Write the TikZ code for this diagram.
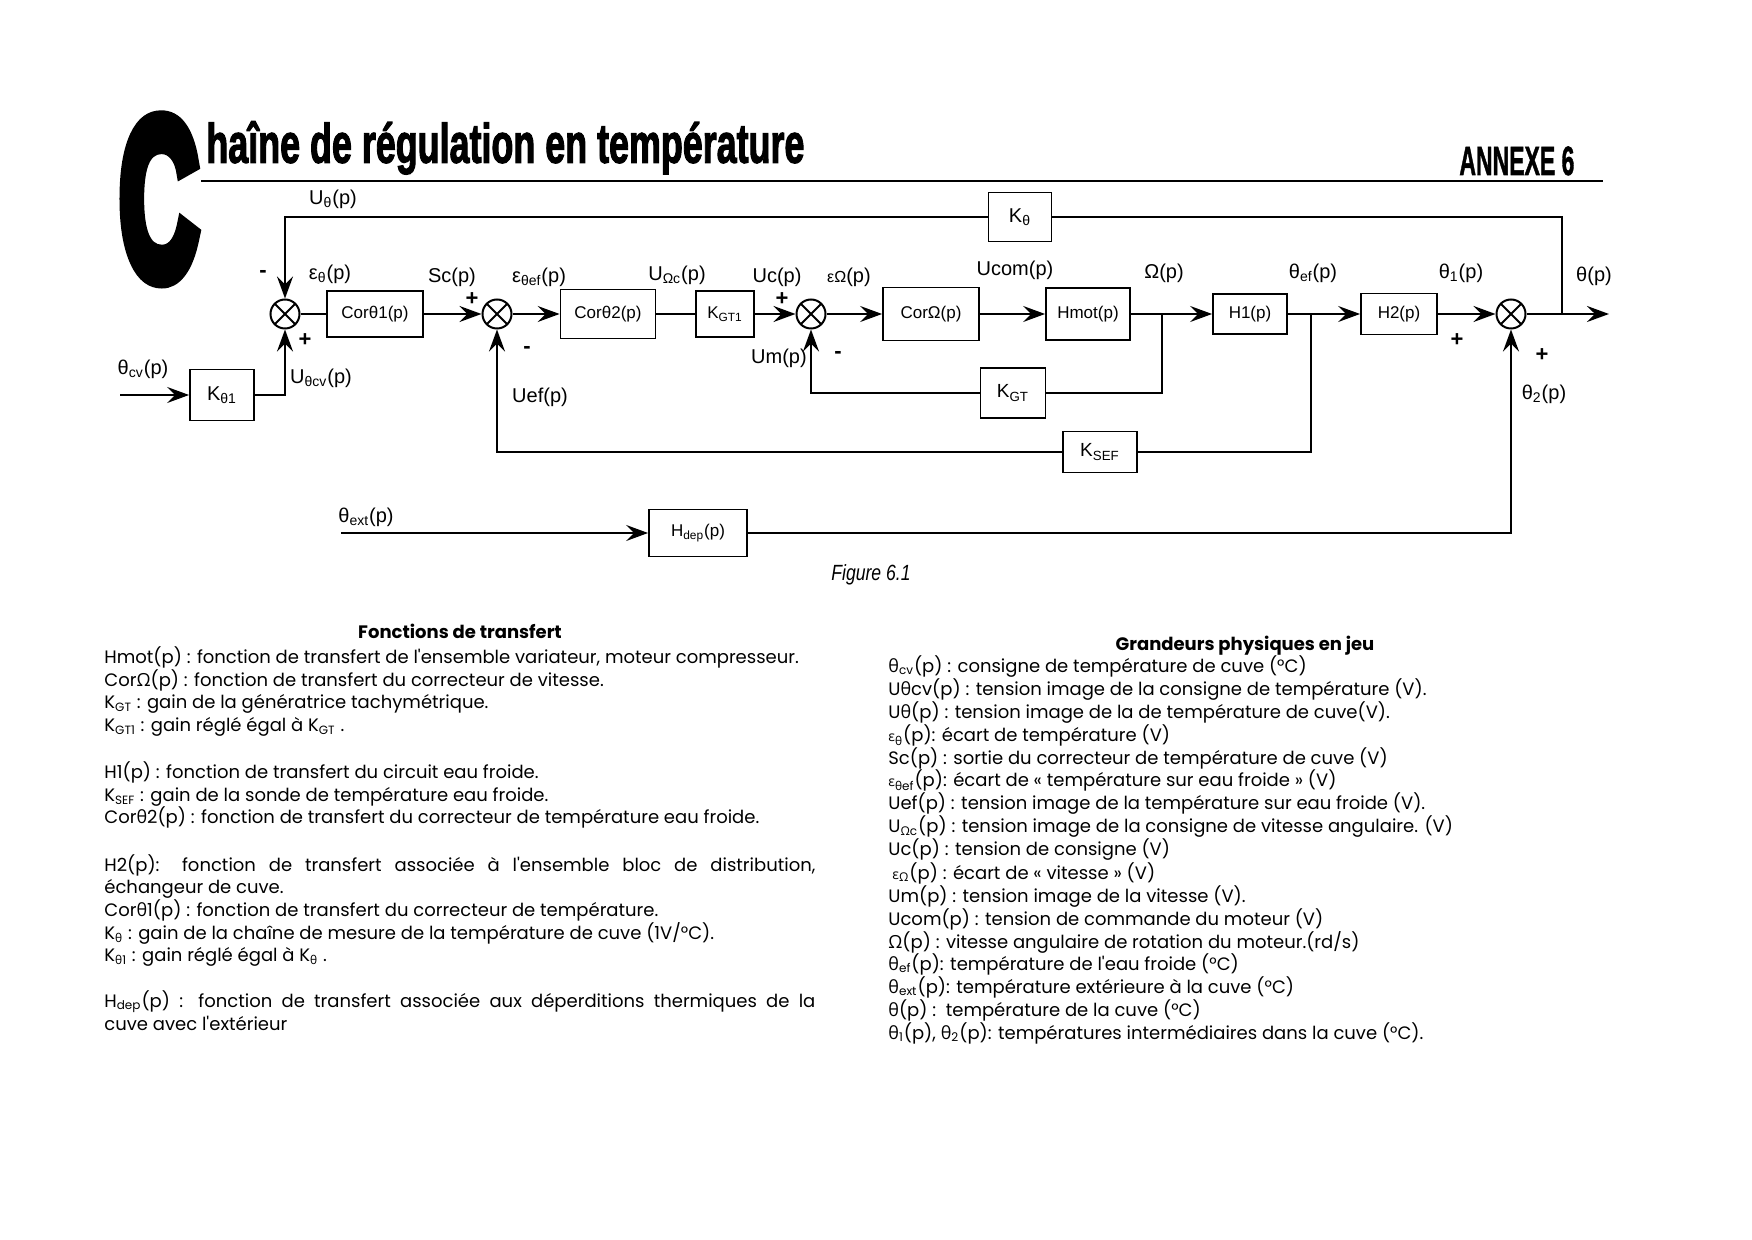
\documentclass[tikz,border=0pt]{standalone}
\usepackage{fontspec}
\usepackage{graphicx}
\setmainfont{Liberation Sans}
\newfontfamily\bodyf{Poppins}
\newfontfamily\grkfont{Open Sans}
\newfontfamily\heavyC{Liberation Sans Bold}[FakeBold=8]
\newfontfamily\heavyT{Liberation Sans Bold}[FakeBold=2.5]
\newfontfamily\heavyA{Liberation Sans Bold}[FakeBold=1.5]
\newcommand\grk[1]{{\grkfont #1}}
\usetikzlibrary{arrows.meta}
\begin{document}
\begin{tikzpicture}[x=0.5pt,y=-0.5pt,
  blk/.style={draw, line width=0.9pt, inner sep=0pt, font=\fontsize{8.5}{10}\selectfont},
  sum/.style={draw, circle, line width=1pt, minimum size=14.5pt, inner sep=0pt,
    path picture={\draw[line width=1pt] (path picture bounding box.north west) -- (path picture bounding box.south east)
      (path picture bounding box.north east) -- (path picture bounding box.south west);}},
  wire/.style={line width=1.2pt},
  arr/.style={wire, -{Stealth[length=11pt,width=8pt,inset=4pt]}},
  lbl/.style={font=\fontsize{10}{12}\selectfont, inner sep=0pt},
  sgn/.style={font=\bfseries\fontsize{11}{12}\selectfont, inner sep=0pt},
  txt/.style={anchor=base west, inner sep=0pt, font=\bodyf\fontsize{9}{11}\selectfont},
  head/.style={anchor=base, inner sep=0pt, font=\bodyf\bfseries\fontsize{9}{11}\selectfont},
]
\fill[white] (0,0) rectangle (1752,1240);
\useasboundingbox (0,0) rectangle (1752,1240);

% title
\node[anchor=north west, inner sep=0pt] (bigC) at (119,119) {\resizebox*{39.5pt}{80pt}{\heavyC C}};
\node[anchor=north west, inner sep=0pt] (title) at (206,121) {\resizebox*{299pt}{26.5pt}{\heavyT haîne de régulation en température}};
\node[anchor=north west, inner sep=0pt] (annexe) at (1459,146) {\resizebox*{57.5pt}{14.5pt}{\heavyA ANNEXE 6}};
\draw[line width=1pt] (201,181) -- (1603,181);

% blocks
\node[blk, minimum width=31.5pt, minimum height=24.5pt] (kt) at (1020,217) {\fontsize{10}{12}\selectfont K\textsubscript{θ}};
\node[blk, minimum width=32pt, minimum height=25.5pt] (kt1) at (222,395) {\fontsize{10}{12}\selectfont K\textsubscript{θ1}};
\node[blk, minimum width=48pt, minimum height=23pt] (c1) at (375,314) {Corθ1(p)};
\node[blk, minimum width=47.5pt, minimum height=24.5pt] (c2) at (608,314) {Corθ2(p)};
\node[blk, minimum width=29pt, minimum height=23pt] (kgt1) at (725,314) {K\textsubscript{GT1}};
\node[blk, minimum width=48pt, minimum height=26.5pt] (co) at (931,314) {CorΩ(p)};
\node[blk, minimum width=42pt, minimum height=26pt] (hm) at (1088,314) {Hmot(p)};
\node[blk, minimum width=37pt, minimum height=20pt] (h1) at (1250,314) {H1(p)};
\node[blk, minimum width=38pt, minimum height=20.5pt] (h2) at (1399,314) {H2(p)};
\node[blk, minimum width=32.5pt, minimum height=25pt] (kgt) at (1013,393) {\fontsize{9.5}{11}\selectfont K\textsubscript{GT}};
\node[blk, minimum width=37pt, minimum height=20.5pt] (ksef) at (1100,452) {\fontsize{9.5}{11}\selectfont K\textsubscript{SEF}};
\node[blk, minimum width=49pt, minimum height=23.5pt] (hdep) at (698,533) {H\textsubscript{dep}(p)};

% summers
\node[sum] (s1) at (285,314) {};
\node[sum] (s2) at (497,314) {};
\node[sum] (s3) at (811,314) {};
\node[sum] (s4) at (1511,314) {};

% coordinates
\coordinate (in1) at (120,395);
\coordinate (ext) at (341,533);
\coordinate (b1) at (1162,314);
\coordinate (b2) at (1311,314);
\coordinate (b4) at (1562,314);
\coordinate (out) at (1609,314);

% wires
\draw[arr] (in1) -- (kt1.west);
\draw[arr] (kt1.east) -| (s1.south);
\draw[wire] (s1.east) -- (c1.west);
\draw[arr] (c1.east) -- (s2.west);
\draw[arr] (s2.east) -- (c2.west);
\draw[wire] (c2.east) -- (kgt1.west);
\draw[arr] (kgt1.east) -- (s3.west);
\draw[arr] (s3.east) -- (co.west);
\draw[arr] (co.east) -- (hm.west);
\draw[arr] (hm.east) -- (h1.west);
\draw[arr] (h1.east) -- (h2.west);
\draw[arr] (h2.east) -- (s4.west);
\draw[arr] (s4.east) -- (out);
\draw[wire] (b4) |- (kt.east);
\draw[arr] (kt.west) -| (s1.north);
\draw[wire] (b1) |- (kgt.east);
\draw[arr] (kgt.west) -| (s3.south);
\draw[wire] (b2) |- (ksef.east);
\draw[arr] (ksef.west) -| (s2.south);
\draw[arr] (ext) -- (hdep.west);
\draw[arr] (hdep.east) -| (s4.south);

% signal labels
\node[lbl] (l1) at (333,199) {U\textsubscript{θ}(p)};
\node[lbl] (l2) at (330,274) {ε\textsubscript{θ}(p)};
\node[lbl] (l3) at (452,277) {Sc(p)};
\node[lbl] (l4) at (539,277) {ε\textsubscript{θef}(p)};
\node[lbl] (l5) at (540,397) {Uef(p)};
\node[lbl] (l6) at (677,275) {U\textsubscript{Ωc}(p)};
\node[lbl] (l7) at (777,277) {Uc(p)};
\node[lbl] (l8) at (849,277) {{\fontsize{8}{10}\selectfont εΩ}(p)};
\node[lbl] (l9) at (779,358) {Um(p)};
\node[lbl] (l10) at (1015,270) {Ucom(p)};
\node[lbl] (l11) at (1164,273) {Ω(p)};
\node[lbl] (l12) at (1313,273) {θ\textsubscript{ef}(p)};
\node[lbl] (l13) at (1461,273) {θ\textsubscript{1}(p)};
\node[lbl] (l14) at (1544,394) {θ\textsubscript{2}(p)};
\node[lbl] (l15) at (1594,276) {θ(p)};
\node[lbl] (l16) at (143,369) {θ\textsubscript{cv}(p)};
\node[lbl] (l17) at (321,378) {U\textsubscript{θcv}(p)};
\node[lbl] (l18) at (366,517) {θ\textsubscript{ext}(p)};

% signs
\node[sgn] (g1) at (263,274) {-};
\node[sgn] (g2) at (305,340) {+};
\node[sgn] (g3) at (472,299) {+};
\node[sgn] (g4) at (527,350) {-};
\node[sgn] (g5) at (782,299) {+};
\node[sgn] (g6) at (838,355) {-};
\node[sgn] (g7) at (1457,340) {+};
\node[sgn] (g8) at (1542,355) {+};

\node[inner sep=0pt, font=\itshape\fontsize{11}{12}\selectfont] (fig) at (871,575) {\scalebox{0.8}[1]{Figure 6.1}};

% left column
\node[head] (hl) at (460,639) {Fonctions de transfert};
\node[txt] (t1) at (104,664) {Hmot(p) : fonction de transfert de l'ensemble variateur, moteur compresseur.};
\node[txt] (t2) at (104,687) {Cor\grk{Ω}(p) : fonction de transfert du correcteur de vitesse.};
\node[txt] (t3) at (104,709) {K\textsubscript{GT} : gain de la génératrice tachymétrique.};
\node[txt] (t4) at (104,732) {K\textsubscript{GT1} : gain réglé égal à K\textsubscript{GT} .};
\node[txt] (t5) at (104,779) {H1(p) : fonction de transfert du circuit eau froide.};
\node[txt] (t6) at (104,802) {K\textsubscript{SEF} : gain de la sonde de température eau froide.};
\node[txt] (t7) at (104,824) {Cor\grk{θ}2(p) : fonction de transfert du correcteur de température eau froide.};
\node[txt] (t8) at (104,871) {\makebox[355.5pt][s]{H2(p): fonction de transfert associée à l'ensemble bloc de distribution,}};
\node[txt] (t9) at (104,893) {échangeur de cuve.};
\node[txt] (t10) at (104,916) {Cor\grk{θ}1(p) : fonction de transfert du correcteur de température.};
\node[txt] (t11) at (104,939) {K\textsubscript{\grk{θ}} : gain de la chaîne de mesure de la température de cuve (1V/°C).};
\node[txt] (t12) at (104,961) {K\textsubscript{\grk{θ}1} : gain réglé égal à K\textsubscript{\grk{θ}} .};
\node[txt] (t13) at (104,1007) {\makebox[355.5pt][s]{H\textsubscript{dep}(p) : fonction de transfert associée aux déperditions thermiques de la}};
\node[txt] (t14) at (104,1030) {cuve avec l'extérieur};

% right column
\node[head] (hr) at (1245,651) {Grandeurs physiques en jeu};
\node[txt] (r1) at (888,673) {\grk{θ}\textsubscript{cv}(p) : consigne de température de cuve (°C)};
\node[txt] (r2) at (888,696) {U\grk{θ}cv(p) : tension image de la consigne de température (V).};
\node[txt] (r3) at (888,719) {U\grk{θ}(p) : tension image de la de température de cuve(V).};
\node[txt] (r4) at (888,742) {{\fontsize{7}{8}\selectfont\grk{ε}}\textsubscript{\grk{θ}}(p): écart de température (V)};
\node[txt] (r5) at (888,765) {Sc(p) : sortie du correcteur de température de cuve (V)};
\node[txt] (r6) at (888,787) {{\fontsize{7}{8}\selectfont\grk{ε}}\textsubscript{\grk{θ}ef}(p): écart de « température sur eau froide » (V)};
\node[txt] (r7) at (888,810) {Uef(p) : tension image de la température sur eau froide (V).};
\node[txt] (r8) at (888,833) {U\textsubscript{\grk{Ω}c}(p) : tension image de la consigne de vitesse angulaire. (V)};
\node[txt] (r9) at (888,856) {Uc(p) : tension de consigne (V)};
\node[txt] (r10) at (892,879) {{\fontsize{7}{8}\selectfont\grk{ε}}\textsubscript{\grk{Ω}}(p) : écart de « vitesse » (V)};
\node[txt] (r11) at (888,902) {Um(p) : tension image de la vitesse (V).};
\node[txt] (r12) at (888,925) {Ucom(p) : tension de commande du moteur (V)};
\node[txt] (r13) at (888,948) {\grk{Ω}(p) : vitesse angulaire de rotation du moteur.(rd/s)};
\node[txt] (r14) at (888,970) {\grk{θ}\textsubscript{ef}(p): température de l'eau froide (°C)};
\node[txt] (r15) at (888,993) {\grk{θ}\textsubscript{ext}(p): température extérieure à la cuve (°C)};
\node[txt] (r16) at (888,1016) {\grk{θ}(p) :\ \ température de la cuve (°C)};
\node[txt] (r17) at (888,1039) {\grk{θ}\textsubscript{1}(p), \grk{θ}\textsubscript{2}(p): températures intermédiaires dans la cuve (°C).};
\end{tikzpicture}
\end{document}
